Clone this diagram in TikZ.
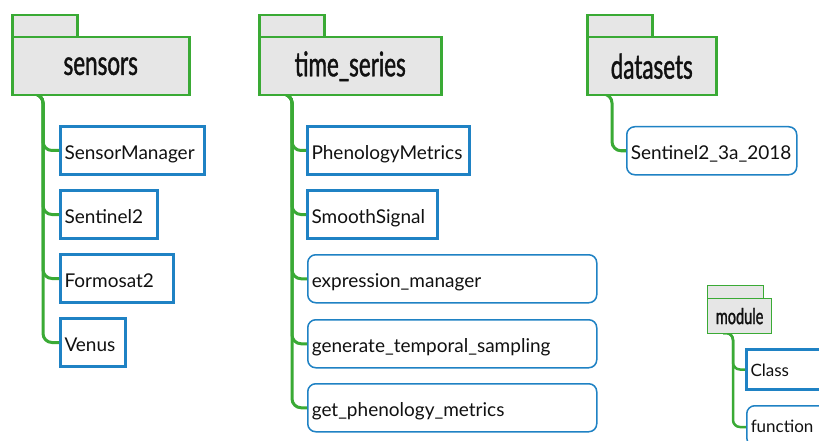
\documentclass[tikz,border=0pt]{standalone}
\usepackage{fontspec}
\setmainfont{Lato}
\newfontfamily\hdrfont[FakeStretch=0.66,FakeBold=1.2]{Lato}
\usetikzlibrary{calc}
\definecolor{fgreen}{RGB}{58,170,53}
\definecolor{fgray}{RGB}{230,230,230}
\definecolor{cblue}{RGB}{31,130,196}
\definecolor{txt}{RGB}{17,17,17}
\begin{document}
\begin{tikzpicture}[x=1pt,y=-1pt,
  tabbox/.style={draw=fgreen, line width=2.5pt, fill=fgray, inner sep=0pt, anchor=north west},
  folder/.style={draw=fgreen, line width=2.5pt, fill=fgray, inner sep=0pt, anchor=north west, text=txt, font=\hdrfont\fontsize{34}{36}\selectfont},
  cls/.style={draw=cblue, line width=3pt, fill=white, anchor=north west, inner xsep=4pt, inner ysep=0pt, align=left, minimum height=48pt, text height=19pt, text depth=2pt, text=txt, font=\fontsize{19}{22}\selectfont},
  fun/.style={cls, line width=1.5pt, rounded corners=8pt},
  conn/.style={draw=fgreen, line width=3pt, rounded corners=9pt},
]
\useasboundingbox (0,0) rectangle (819,441);
\fill[white] (0,0) rectangle (819,441);

% ---------- sensors ----------
\coordinate (s0) at (32,94);
\coordinate (s1) at (43,94);
\node[cls, text width=136pt] (sm) at (59,125) {SensorManager};
\node[cls, text width=89pt] (s2) at (59,189) {Sentinel2};
\node[cls, text width=105pt] (f2) at (59,253) {Formosat2};
\node[cls, text width=57pt] (ve) at (59,317) {Venus};
\draw[conn] (s0) -- (s1) |- (sm.west);
\draw[conn] (s0) -- (s1) |- (s2.west);
\draw[conn] (s0) -- (s1) |- (f2.west);
\draw[conn] (s0) -- (s1) |- (ve.west);
\node[tabbox, minimum width=65pt, minimum height=22pt] (tabS) at (11,14) {};
\node[folder, minimum width=177pt, minimum height=58pt] (sensors) at (11,36) {sensors};

% ---------- time_series ----------
\coordinate (t0) at (282,94);
\coordinate (t1) at (292,94);
\node[cls, text width=154pt] (pm) at (306,125) {PhenologyMetrics};
\node[cls, text width=122pt] (ss) at (306,189) {SmoothSignal};
\node[fun, text width=281pt] (em) at (307,254) {expression\_manager};
\node[fun, text width=281pt] (gts) at (307,319) {generate\_temporal\_sampling};
\node[fun, text width=281pt] (gpm) at (307,383) {get\_phenology\_metrics};
\draw[conn] (t0) -- (t1) |- (pm.west);
\draw[conn] (t0) -- (t1) |- (ss.west);
\draw[conn] (t0) -- (t1) |- (em.west);
\draw[conn] (t0) -- (t1) |- (gts.west);
\draw[conn] (t0) -- (t1) |- (gpm.west);
\node[tabbox, minimum width=65pt, minimum height=22pt] (tabT) at (258,14) {};
\node[folder, minimum width=182pt, minimum height=58pt] (timeseries) at (258,36) {time\_series};

% ---------- datasets ----------
\coordinate (d0) at (602,94);
\coordinate (d1) at (612,94);
\node[fun, text width=162pt] (s2a) at (626,126) {Sentinel2\_3a\_2018};
\draw[conn] (d0) -- (d1) |- (s2a.west);
\node[tabbox, minimum width=65pt, minimum height=22pt] (tabD) at (586,14) {};
\node[folder, minimum width=129pt, minimum height=58pt] (datasets) at (586,36) {datasets};

% ---------- legend ----------
\coordinate (l0) at (723,333);
\coordinate (l1) at (733,333);
\node[cls, minimum height=40pt, text height=16pt, text depth=2pt, text width=90pt, font=\fontsize{17}{19}\selectfont] (lcls) at (745,348) {Class};
\node[fun, minimum height=40pt, text height=16pt, text depth=2pt, text width=90pt, font=\fontsize{17}{19}\selectfont] (lfun) at (746,405) {function};
\draw[conn, line width=2.5pt, rounded corners=7pt] (l0) -- (l1) |- (lcls.west);
\draw[conn, line width=2.5pt, rounded corners=7pt] (l0) -- (l1) |- ($(lfun.north west)+(0,22)$);
\node[tabbox, line width=1.2pt, minimum width=56pt, minimum height=13pt] (tabL) at (707,285) {};
\node[folder, line width=1.2pt, minimum width=64pt, minimum height=35pt, font=\hdrfont\fontsize{22}{24}\selectfont] (module) at (707,298) {module};
\end{tikzpicture}
\end{document}
